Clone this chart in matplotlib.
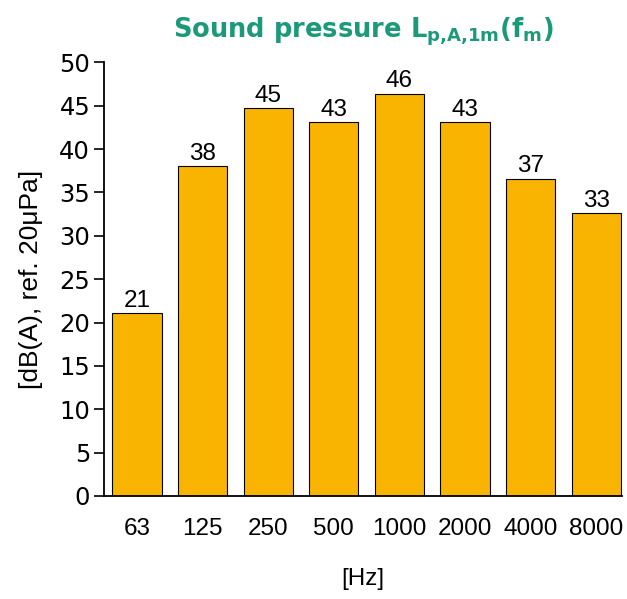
import matplotlib
matplotlib.use("Agg")
import matplotlib.pyplot as plt

# values
freqs = ["63", "125", "250", "500", "1000", "2000", "4000", "8000"]
levels = [21.1, 38.0, 44.7, 43.1, 46.4, 43.1, 36.6, 32.6]
labels = ["21", "38", "45", "43", "46", "43", "37", "33"]
yticks = [0, 5, 10, 15, 20, 25, 30, 35, 40, 45, 50]

bar_color = "#F8B400"
title_color = "#1A9A7A"

plt.rcParams["mathtext.fontset"] = "dejavusans"

fig = plt.figure(figsize=(6.27, 5.99), dpi=100)
ax = fig.add_axes([0.166, 0.172, 0.826, 0.724])

x = range(len(freqs))
bars = ax.bar(x, levels, width=0.75, color=bar_color, edgecolor="black", linewidth=0.8)
ax.bar_label(bars, labels=labels, padding=1, fontsize=17.5, family="Liberation Sans")

ax.set_xlim(-0.5, 7.39)
ax.set_ylim(0, 50)
ax.set_yticks(yticks)
ax.set_xticks(list(x))
ax.set_xticklabels(freqs, family="Liberation Sans", fontsize=17.5)
ax.tick_params(axis="y", labelsize=17.5, length=7, width=1.2, direction="out", pad=3)
ax.tick_params(axis="x", length=0, pad=16)

for side in ("top", "right"):
    ax.spines[side].set_visible(False)
ax.spines["left"].set_linewidth(1.3)
ax.spines["bottom"].set_linewidth(1.3)

ax.set_ylabel("[dB(A), ref. 20μPa]", family="Liberation Sans", fontsize=19, labelpad=12)
ax.set_xlabel("[Hz]", family="Liberation Sans", fontsize=17.5, labelpad=20)
ax.set_title(r"Sound pressure L$_{\mathbf{p{,}A{,}1m}}$(f$_{\mathbf{m}}$)",
             fontsize=18.5, fontweight="bold", color=title_color, pad=18)

fig.savefig("out.png", dpi=100)
